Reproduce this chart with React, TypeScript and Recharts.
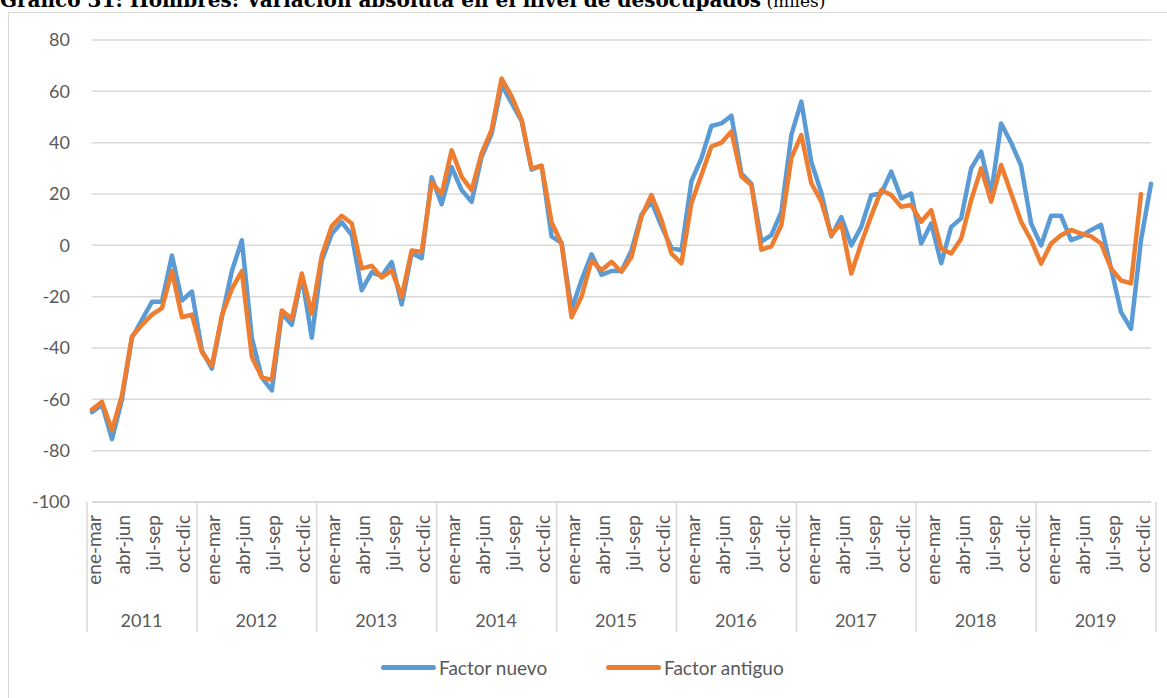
import React from "react";
import { CartesianGrid, Legend, Line, LineChart, XAxis, YAxis } from "recharts";

// Trimestres móviles (el año 2011 parte en ene-mar)
const trimestres = [
  "dic-feb", "ene-mar", "feb-abr", "mar-may", "abr-jun", "may-jul",
  "jun-ago", "jul-sep", "ago-oct", "sep-nov", "oct-dic", "nov-ene",
];
const anios = [2011, 2012, 2013, 2014, 2015, 2016, 2017, 2018, 2019];

// Variación absoluta (miles)
const factorNuevo = [
  -65, -62, -75.5, -60, -36, -29, -22, -22, -4, -21.5, -18,
  -41, -48, -28, -10, 2, -36, -51.5, -56.5, -26.5, -31, -12, -36,
  -6, 4.5, 9, 4, -17.5, -10.5, -12, -6.5, -23, -3, -5, 26.5,
  16, 30.5, 21.5, 17, 34.5, 43.5, 62.5, 55.5, 48.5, 29.5, 31, 3.5,
  1, -25, -13.5, -3.5, -11.5, -10, -10, -2, 12, 17, 7.5, -1,
  -2, 25, 34, 46.5, 47.5, 50.5, 28, 24, 1.5, 4, 13, 43,
  56, 32.5, 20.5, 3.5, 11, 0, 7.2, 19.5, 20.2, 28.7, 18.3, 20.2,
  0.7, 8.5, -7, 7.2, 10.5, 30, 36.5, 20, 47.5, 40, 31, 8.5,
  0, 11.5, 11.5, 2, 3.5, 6, 8, -9, -26, -32.5, 2, 24,
];
const factorAntiguo = [
  -64, -61, -72, -58.5, -35.5, -31, -27, -24.5, -10, -28, -27,
  -41.5, -47, -27.3, -17, -10, -43.5, -51.5, -52.4, -25.4, -28.6, -11, -26.7,
  -4, 7.5, 11.5, 8.5, -9, -8, -12.5, -9.8, -20, -2, -2.6, 24.5,
  20, 37, 26.7, 21.5, 35.8, 45, 65, 58, 49, 30, 31, 9,
  0.6, -28, -20, -6, -9.7, -6.4, -10.3, -4.5, 11.2, 19.6, 9.9, -3.2,
  -7, 16.4, 27.4, 38.5, 40, 44.4, 26.8, 23.5, -1.7, -0.4, 7.9, 34,
  43, 24.2, 17, 4, 8.6, -11, 0.8, 11.5, 21.5, 19.6, 15, 15.7,
  9.2, 13.7, -1.3, -3.2, 2.6, 17.6, 30, 17, 31.3, 20.2, 9.2, 2,
  -7.1, 0.7, 3.9, 6, 4.6, 3.5, 0.7, -9, -13.7, -14.8, 20,
];

const yTicks = [-100, -80, -60, -40, -20, 0, 20, 40, 60, 80];

const filas: { anio: number; trimestre: string }[] = [];
anios.forEach((anio) =>
  trimestres.forEach((t, j) => {
    if (anio === 2011 && j === 0) return;
    filas.push({ anio, trimestre: t });
  })
);
const data = filas.map((f, i) => ({
  ...f,
  nuevo: factorNuevo[i],
  antiguo: factorAntiguo[i] ?? null,
}));

const spans = anios.map((anio) => ({
  anio,
  start: data.findIndex((d) => d.anio === anio),
  count: data.filter((d) => d.anio === anio).length,
}));

const W = 1167;
const H = 698;
const PLOT_LEFT = 92;
const PLOT_RIGHT = 1151;
const PLOT_TOP = 40;
const PLOT_BOTTOM = 502;
const STEP = (PLOT_RIGHT - PLOT_LEFT) / data.length;

const AXIS_GRAY = "#d9d9d9";
const TEXT_GRAY = "#595959";
const FONT = "Lato, 'Open Sans', sans-serif";
const BLUE = "#5b9bd5";
const ORANGE = "#ed7d31";

function MonthTick({ x, payload }: any) {
  const y = PLOT_BOTTOM + 13;
  return (
    <text
      x={x + 1}
      y={y}
      transform={`rotate(-90 ${x + 1} ${y})`}
      textAnchor="end"
      dominantBaseline="central"
      fill={TEXT_GRAY}
      fontSize={19}
      fontFamily={FONT}
    >
      {payload.value}
    </text>
  );
}

function YearTick({ x, index }: any) {
  const span = spans.find((s) => s.start === index);
  const last = index === data.length - 1;
  if (!span && !last) return <g />;
  const bottom = 632;
  return (
    <g>
      {span && (
        <>
          <line
            x1={x - STEP / 2}
            x2={x - STEP / 2}
            y1={PLOT_BOTTOM}
            y2={bottom}
            stroke={AXIS_GRAY}
            strokeWidth={1.5}
          />
          <text
            x={x - STEP / 2 + (span.count * STEP) / 2}
            y={620}
            textAnchor="middle"
            dominantBaseline="central"
            fill={TEXT_GRAY}
            fontSize={18}
            fontFamily={FONT}
          >
            {span.anio}
          </text>
        </>
      )}
      {last && (
        <line
          x1={x + STEP / 2}
          x2={x + STEP / 2}
          y1={PLOT_BOTTOM}
          y2={bottom}
          stroke={AXIS_GRAY}
          strokeWidth={1.5}
        />
      )}
    </g>
  );
}

function LegendContent() {
  const items = [
    { label: "Factor nuevo", color: BLUE, left: 381 },
    { label: "Factor antiguo", color: ORANGE, left: 606 },
  ];
  return (
    <div style={{ position: "relative", height: 26 }}>
      {items.map((it) => (
        <div
          key={it.label}
          style={{
            position: "absolute",
            left: it.left,
            top: 0,
            display: "flex",
            alignItems: "center",
            height: 26,
          }}
        >
          <span
            style={{
              display: "inline-block",
              width: 55,
              height: 5,
              borderRadius: 3,
              background: it.color,
            }}
          />
          <span
            style={{
              marginLeft: 3,
              fontFamily: FONT,
              fontSize: 19,
              color: TEXT_GRAY,
            }}
          >
            {it.label}
          </span>
        </div>
      ))}
    </div>
  );
}

export default function App() {
  return (
    <div
      style={{
        position: "absolute",
        left: 0,
        top: 0,
        width: W,
        height: H,
        overflow: "hidden",
        background: "#fff",
      }}
    >
      <svg
        width={W}
        height={20}
        style={{ position: "absolute", left: 0, top: 0 }}
      >
        <text x={0} y={7} fontFamily="'DejaVu Serif', serif" fontSize={20}>
          <tspan fontWeight="bold">
            Gráfico 31: Hombres: Variación absoluta en el nivel de desocupados
          </tspan>
          <tspan fontSize={17}> (miles)</tspan>
        </text>
      </svg>
      <div
        style={{
          position: "absolute",
          left: 8,
          top: 12,
          width: 1200,
          height: 720,
          border: `1px solid ${AXIS_GRAY}`,
        }}
      />
      <div style={{ position: "absolute", left: 0, top: 0 }}>
        <LineChart
          width={W}
          height={H}
          data={data}
          margin={{ top: PLOT_TOP, right: W - PLOT_RIGHT, left: 0, bottom: 60 }}
        >
          <CartesianGrid vertical={false} stroke={AXIS_GRAY} strokeWidth={1.5} />
          <XAxis
            dataKey="trimestre"
            interval={2}
            tickLine={false}
            axisLine={{ stroke: AXIS_GRAY, strokeWidth: 1.5 }}
            height={100}
            tick={<MonthTick />}
          />
          <XAxis
            xAxisId="anio"
            dataKey="anio"
            interval={0}
            tickLine={false}
            axisLine={false}
            height={36}
            tick={<YearTick />}
          />
          <YAxis
            width={PLOT_LEFT}
            domain={[-100, 80]}
            ticks={yTicks}
            interval={0}
            axisLine={false}
            tickLine={false}
            tickSize={0}
            tickMargin={22}
            tick={{ fill: TEXT_GRAY, fontSize: 18, fontFamily: FONT }}
          />
          <Legend
            layout="horizontal"
            verticalAlign="middle"
            align="center"
            wrapperStyle={{ top: 654, left: 0, width: W }}
            content={<LegendContent />}
          />
          <Line
            type="linear"
            dataKey="nuevo"
            name="Factor nuevo"
            stroke={BLUE}
            strokeWidth={4.5}
            strokeLinejoin="round"
            strokeLinecap="round"
            dot={false}
            isAnimationActive={false}
          />
          <Line
            type="linear"
            dataKey="antiguo"
            name="Factor antiguo"
            stroke={ORANGE}
            strokeWidth={4.5}
            strokeLinejoin="round"
            strokeLinecap="round"
            dot={false}
            isAnimationActive={false}
          />
        </LineChart>
      </div>
    </div>
  );
}
